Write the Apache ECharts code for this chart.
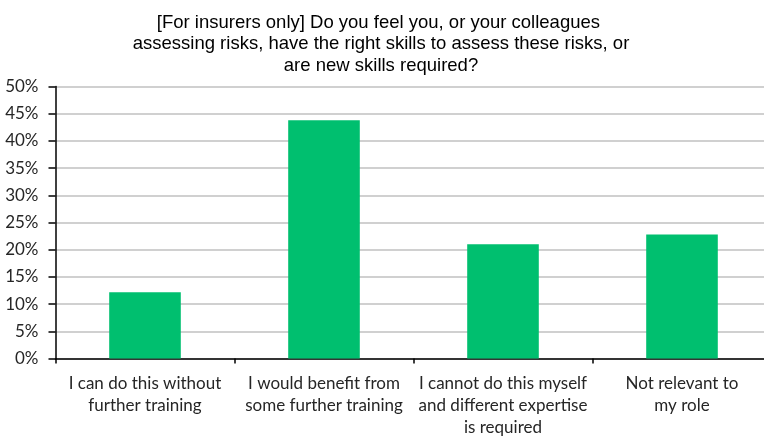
<!DOCTYPE html>
<html>
<head>
<meta charset="utf-8">
<script src="https://cdn.jsdelivr.net/npm/echarts@6/dist/echarts.min.js"></script>
<style>
html, body { margin: 0; padding: 0; background: #fff; overflow: hidden; }
#chart { width: 780px; height: 442px; }
</style>
</head>
<body>
<div id="chart"></div>
<script>
// 图表数据
var titleText = '[For insurers only] Do you feel you, or your colleagues \nassessing risks, have the right skills to assess these risks, or\nare new skills required?';
var categories = [
    'I can do this without\nfurther training',
    'I would benefit from\nsome further training',
    'I cannot do this myself\nand different expertise\nis required',
    'Not relevant to\nmy role'
];
var values = [12.2, 43.8, 21.0, 22.8];

var chart = echarts.init(document.getElementById('chart'));
chart.setOption({
    animation: false,
    title: {
        text: titleText,
        left: 376,
        top: 7,
        textAlign: 'center',
        textStyle: {
            fontFamily: 'Liberation Sans',
            fontWeight: 'normal',
            fontSize: 18.5,
            lineHeight: 21.5,
            color: '#000'
        }
    },
    grid: {
        left: 55.5,
        top: 86.5,
        width: 716,
        bottom: 83.5
    },
    xAxis: {
        type: 'category',
        data: categories,
        axisLine: { lineStyle: { color: '#000', width: 1.5 } },
        axisTick: { show: true, length: 5, lineStyle: { color: '#000', width: 1.5 } },
        axisLabel: {
            interval: 0,
            margin: 14,
            fontFamily: 'Lato',
            fontSize: 17,
            lineHeight: 22,
            color: '#262626'
        }
    },
    yAxis: {
        type: 'value',
        min: 0,
        max: 50,
        interval: 5,
        axisLine: { show: true, lineStyle: { color: '#000', width: 1.5 } },
        axisTick: { show: true, length: 7, lineStyle: { color: '#000', width: 1.5 } },
        axisLabel: {
            formatter: '{value}%',
            margin: 17,
            fontFamily: 'Lato',
            fontSize: 17,
            color: '#262626'
        },
        splitLine: { lineStyle: { color: '#c0c0c0', width: 1.5 } }
    },
    series: [
        {
            type: 'bar',
            data: values,
            barWidth: '40%',
            itemStyle: { color: '#00bf6f' }
        }
    ]
});
</script>
</body>
</html>
